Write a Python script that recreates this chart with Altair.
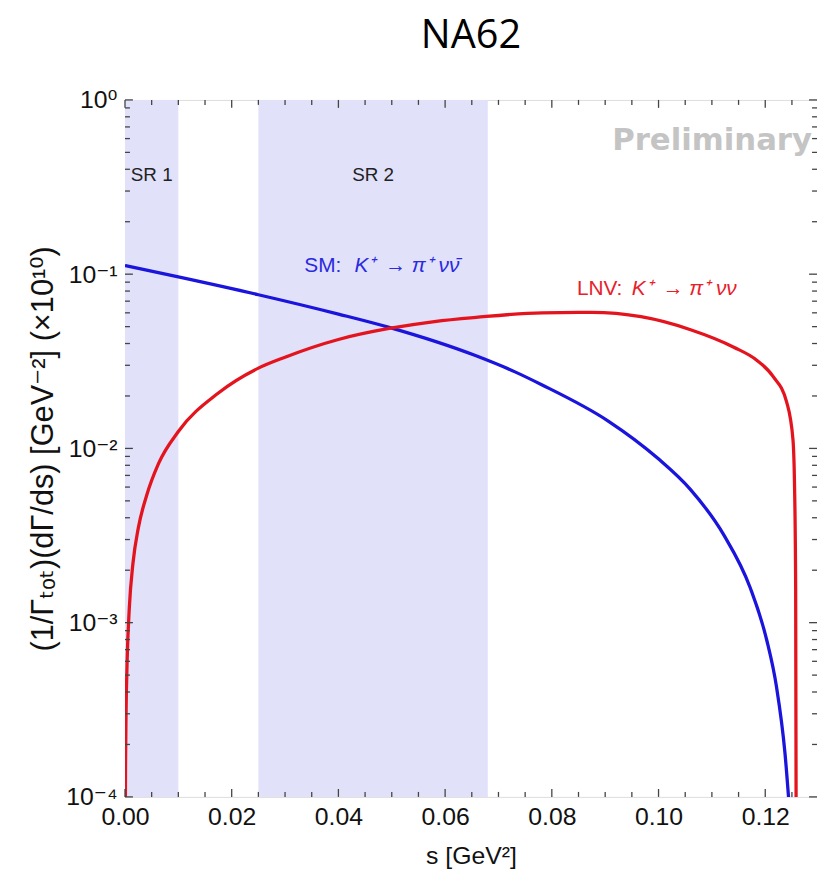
import altair as alt
import pandas as pd

# ---- data ----
sm_s = [0.0, 0.01, 0.025, 0.04, 0.0495, 0.0658, 0.0731, 0.0781, 0.0905, 0.0998,
        0.106, 0.1122, 0.1172, 0.1203, 0.1221, 0.1237, 0.1246]
sm_v = [0.112, 0.0964, 0.0762, 0.059, 0.0495, 0.0340, 0.0275, 0.0232, 0.0144, 0.0088,
        0.0058, 0.0032, 0.00158, 0.00079, 0.00043, 0.000178, 0.00008]

lnv_s = [0.00003, 0.0001, 0.0002, 0.0004, 0.0008, 0.0015, 0.0025, 0.004, 0.0063, 0.01,
         0.0175, 0.025, 0.03, 0.04, 0.0495, 0.058, 0.0658, 0.0782, 0.0874, 0.0967,
         0.106, 0.1141, 0.1184, 0.1215, 0.124, 0.1252, 0.1255, 0.1257, 0.1258]
lnv_v = [0.00005, 0.00015, 0.0003, 0.0006, 0.0012, 0.0022, 0.0035, 0.0053, 0.0082, 0.0125,
         0.0208, 0.0289, 0.0334, 0.0422, 0.0488, 0.0535, 0.0565, 0.0600, 0.0603, 0.0570,
         0.0480, 0.0381, 0.0321, 0.0258, 0.0185, 0.0112, 0.0059, 0.0016, 0.00005]

band_names = ["SR 1", "SR 2"]
band_start = [0.0, 0.025]
band_end = [0.01, 0.068]
band_label_y = [0.37, 0.37]

x_major = [0.0, 0.02, 0.04, 0.06, 0.08, 0.10, 0.12]
x_minor = [0.005, 0.01, 0.015, 0.025, 0.03, 0.035, 0.045, 0.05, 0.055, 0.065, 0.07,
           0.075, 0.085, 0.09, 0.095, 0.105, 0.11, 0.115, 0.125]
y_major = [1e-4, 1e-3, 1e-2, 1e-1, 1.0]
y_major_labels = ["10⁻⁴", "10⁻³", "10⁻²", "10⁻¹", "10⁰"]
y_minor = [m * d for d in [1e-4, 1e-3, 1e-2, 1e-1] for m in range(2, 10)]

title_text = "NA62"

W, H = 698, 703
XDOM = [0, 0.1297]
YDOM = [1e-4, 1]

xscale = alt.Scale(domain=XDOM, nice=False, zero=False, padding=0)
yscale = alt.Scale(type="log", domain=YDOM, nice=False, padding=0)

sm_df = pd.DataFrame({"s": sm_s, "v": sm_v})
lnv_df = pd.DataFrame({"s": lnv_s, "v": lnv_v})
band_df = pd.DataFrame({"name": band_names, "a": band_start, "b": band_end,
                        "ly": band_label_y})
band_df["mid"] = (band_df["a"] + band_df["b"]) / 2

label_expr = " : ".join(
    f"abs(datum.value - {v}) < {v}*0.01 ? '{t}'" for v, t in zip(y_major, y_major_labels)
) + " : ''"

FONT = "Liberation Sans"
TFONT = "Liberation Sans, DejaVu Sans"

x_axis = alt.Axis(values=x_major, format=".2f", ticks=False, domain=False, grid=False,
                  labelFlush=False, labelOverlap=False,
                  labelFont=FONT, labelFontSize=25, labelColor="#111",
                  labelPadding=8, title="s [GeV²]", titleFont=TFONT, titleFontSize=25,
                  titleFontWeight="normal", titleColor="#111", titlePadding=14)
y_axis = alt.Axis(values=y_major, labelExpr=label_expr, ticks=False, domain=False,
                  grid=False, labelFlush=False, labelOverlap=False,
                  labelFont=TFONT, labelFontSize=25, labelColor="#111",
                  labelPadding=8,
                  title="(1/Γₜₒₜ)(dΓ/ds) [GeV⁻²] (×10¹⁰)", titleFont=TFONT,
                  titleFontSize=31, titleFontWeight="normal", titleColor="#111",
                  titlePadding=6)

bands = alt.Chart(band_df).mark_rect(color="#e1e1fa").encode(
    x=alt.X("a:Q", scale=xscale, axis=x_axis),
    x2="b:Q",
    y=alt.value(0), y2=alt.value(H))

band_text = alt.Chart(band_df).mark_text(font=FONT, fontSize=19, color="#222").encode(
    x=alt.X("mid:Q", scale=xscale), y=alt.Y("ly:Q", scale=yscale, axis=y_axis),
    text="name:N")

sm_line = alt.Chart(sm_df).mark_line(color="#1a14dc", strokeWidth=3.3,
                                     interpolate="monotone", clip=True).encode(
    x=alt.X("s:Q", scale=xscale), y=alt.Y("v:Q", scale=yscale))
lnv_line = alt.Chart(lnv_df).mark_line(color="#e4141e", strokeWidth=3.3,
                                       interpolate="monotone", clip=True).encode(
    x=alt.X("s:Q", scale=xscale), y=alt.Y("v:Q", scale=yscale))

ann_df = pd.DataFrame({
    "s": [0.0336, 0.0430, 0.0847, 0.0950],
    "v": [0.111, 0.111, 0.0822, 0.0822],
    "t": ["SM:", "K⁺ \u2009→ π⁺ νν̄", "LNV:", "K⁺ \u2009→ π⁺ νν"],
    "c": ["#2a2ae0", "#2a2ae0", "#e8202a", "#e8202a"],
    "st": ["normal", "italic", "normal", "italic"],
})
ann_reg = alt.Chart(ann_df[ann_df.st == "normal"]).mark_text(
    font=FONT, fontSize=21, align="left", baseline="middle").encode(
    x=alt.X("s:Q", scale=xscale), y=alt.Y("v:Q", scale=yscale),
    text="t:N", color=alt.Color("c:N", scale=None))
ann_it = alt.Chart(ann_df[ann_df.st == "italic"]).mark_text(
    font=FONT, fontSize=21, fontStyle="italic", align="left", baseline="middle").encode(
    x=alt.X("s:Q", scale=xscale), y=alt.Y("v:Q", scale=yscale),
    text="t:N", color=alt.Color("c:N", scale=None))

prelim = alt.Chart(pd.DataFrame({"t": ["Preliminary"]})).mark_text(
    font="DejaVu Sans", fontWeight="bold", fontSize=31, color="#c4c4c4",
    align="right", baseline="middle").encode(
    x=alt.value(W - 5), y=alt.value(41), text="t:N")

title_mark = alt.Chart(pd.DataFrame({"t": [title_text]})).mark_text(
    font="Open Sans", fontSize=40, color="#000", align="center",
    baseline="alphabetic").encode(
    x=alt.value(W / 2), y=alt.value(-52), text="t:N")

# inward ticks
xmaj_df = pd.DataFrame({"x": x_major})
xmin_df = pd.DataFrame({"x": x_minor})
ymaj_df = pd.DataFrame({"y": y_major})
ymin_df = pd.DataFrame({"y": y_minor})
TC = "#444"

def xticks(df, ln):
    b = alt.Chart(df).mark_rule(color=TC, strokeWidth=1.3).encode(
        x=alt.X("x:Q", scale=xscale), y=alt.value(H), y2=alt.value(H - ln))
    t = alt.Chart(df).mark_rule(color=TC, strokeWidth=1.3).encode(
        x=alt.X("x:Q", scale=xscale), y=alt.value(0), y2=alt.value(ln))
    return b + t

def yticks(df, ln):
    l = alt.Chart(df).mark_rule(color=TC, strokeWidth=1.3).encode(
        y=alt.Y("y:Q", scale=yscale), x=alt.value(0), x2=alt.value(ln))
    r = alt.Chart(df).mark_rule(color=TC, strokeWidth=1.3).encode(
        y=alt.Y("y:Q", scale=yscale), x=alt.value(W), x2=alt.value(W - ln))
    return l + r

chart = alt.layer(
    bands, band_text, sm_line, lnv_line, ann_reg, ann_it, prelim, title_mark,
    xticks(xmaj_df, 8), xticks(xmin_df, 5), yticks(ymaj_df, 8), yticks(ymin_df, 5),
).properties(
    width=W, height=H,
    autosize=alt.AutoSizeParams(type="none"),
    padding={"left": 118, "top": 89, "right": 0, "bottom": 70},
).configure_view(stroke="#444", strokeWidth=1.5).configure(background="white")

chart.save("out.html", embed_options={"renderer": "svg", "actions": False})
